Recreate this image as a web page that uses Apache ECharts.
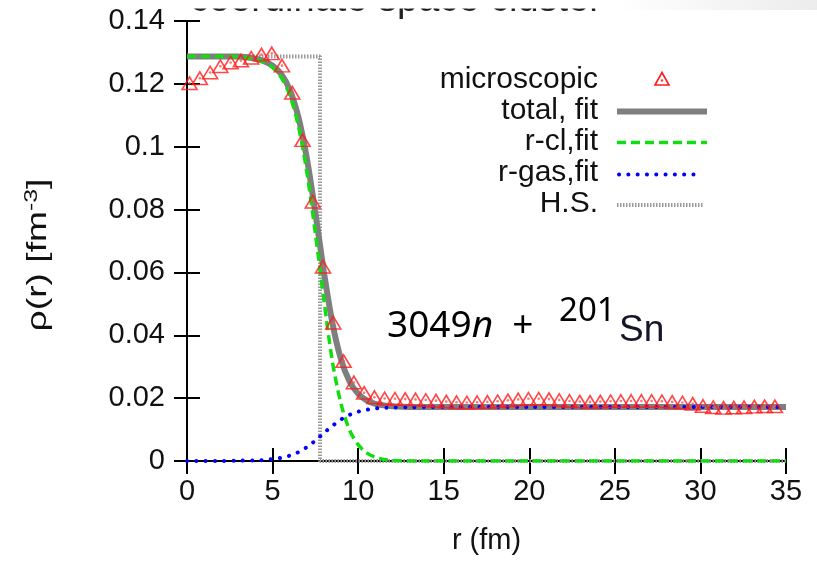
<!DOCTYPE html>
<html>
<head>
<meta charset="utf-8">
<script src="https://cdn.jsdelivr.net/npm/echarts@6/dist/echarts.min.js"></script>
<style>html,body{margin:0;padding:0;background:#fff}#c{width:817px;height:563px}</style>
</head>
<body>
<div id="c"></div>
<script>
// ---------- data ----------
const xTicks = [0, 5, 10, 15, 20, 25, 30, 35];
const yTickLabels = ['0', '0.02', '0.04', '0.06', '0.08', '0.1', '0.12', '0.14'];
const legendNames = ['microscopic', 'total, fit', 'r-cl,fit', 'r-gas,fit', 'H.S.'];

const rMicro = [0.15,0.75,1.35,1.95,2.55,3.15,3.75,4.35,4.95,5.55,6.15,6.75,7.35,7.95,8.55,9.15,9.75,10.35,10.95,11.55,
  12.15,12.75,13.35,13.95,14.55,15.15,15.75,16.35,16.95,17.55,18.15,18.75,19.35,19.95,20.55,21.15,21.75,22.35,22.95,23.55,
  24.15,24.75,25.35,25.95,26.55,27.15,27.75,28.35,28.95,29.55,30.15,30.75,31.35,31.95,32.55,33.15,33.75,34.35];
const rhoMicro = [0.1202,0.1218,0.1236,0.1256,0.1268,0.1274,0.1283,0.1293,0.1297,0.1258,0.1172,0.1021,0.0825,0.0618,0.0440,0.0318,0.0250,0.0217,0.0203,0.0199,
  0.0198,0.0197,0.0196,0.0194,0.0192,0.0189,0.0187,0.0186,0.0187,0.0188,0.0190,0.0193,0.0196,0.0198,0.0198,0.0197,0.0194,0.0191,0.0189,0.0188,
  0.0189,0.0190,0.0191,0.0191,0.0191,0.0191,0.0190,0.0188,0.0186,0.0182,0.0175,0.0171,0.0169,0.0170,0.0171,0.0173,0.0174,0.0174];

const rFit = [0,1,2,3,4,4.5,5,5.5,6,6.5,7,7.5,8,8.5,9,9.5,10,10.5,11,11.5,12,13,14,15,20,25,30,35];
const rhoTotal = [0.1287,0.1287,0.1287,0.1287,0.1280,0.1272,0.1258,0.1231,0.1182,0.1096,0.0964,0.0790,0.0601,0.0438,0.0323,0.0253,0.0214,0.0193,0.0182,0.0177,0.0174,0.0172,0.0172,0.0172,0.0172,0.0172,0.0172,0.0172];
const rhoCl = [0.1287,0.1287,0.1287,0.1286,0.1278,0.1269,0.1252,0.1221,0.1165,0.1068,0.0920,0.0725,0.0512,0.0315,0.0182,0.0098,0.0052,0.0026,0.0012,0.0005,0.0002,0,0,0,0,0,0,0];
const rhoGas = [0,0,0,0.0001,0.0002,0.0003,0.0006,0.0010,0.0017,0.0028,0.0044,0.0065,0.0089,0.0112,0.0132,0.0147,0.0157,0.0163,0.0167,0.0169,0.0170,0.0171,0.0172,0.0172,0.0172,0.0172,0.0172,0.0172];

const rHS = [0, 7.77, 7.77, 35];
const rhoHS = [0.1287, 0.1287, 0, 0];

// ---------- chart ----------
const FONT = '"Liberation Sans", Arial, sans-serif';
const zip = (a, b) => a.map((v, i) => [v, b[i]]);
const chart = echarts.init(document.getElementById('c'), null, { renderer: 'canvas' });

const axisLine = { show: true, lineStyle: { color: '#000', width: 2 } };
const axisTick = { show: true, inside: true, length: 13, lineStyle: { color: '#000', width: 2 } };

const legendY = [80, 111, 142, 173, 204];
const legendGraphics = [];
legendNames.forEach((n, i) => {
  legendGraphics.push({ type: 'text', x: 598, y: legendY[i], z: 100,
    style: { text: n, fontSize: 30, fontFamily: FONT, fill: '#111', align: 'right', verticalAlign: 'middle' } });
});
legendGraphics.push({ type: 'polygon', z: 100, shape: { points: [[662, 72.5], [669, 85], [655, 85]] },
  style: { fill: 'none', stroke: '#ff1a1a', lineWidth: 1.6 } });
legendGraphics.push({ type: 'circle', z: 100, shape: { cx: 662, cy: 80.5, r: 1.3 }, style: { fill: '#ff4040' } });
legendGraphics.push({ type: 'line', z: 100, shape: { x1: 617, y1: 111.5, x2: 707, y2: 111.5 }, style: { stroke: '#7f7f7f', lineWidth: 6 } });
legendGraphics.push({ type: 'line', z: 100, shape: { x1: 617, y1: 142.5, x2: 707, y2: 142.5 }, style: { stroke: '#11dd11', lineWidth: 3.5, lineDash: [9, 5] } });
legendGraphics.push({ type: 'line', z: 100, shape: { x1: 619, y1: 174.5, x2: 701, y2: 174.5 }, style: { stroke: '#0000ff', lineWidth: 4, lineDash: [0.1, 9.2], lineCap: 'round' } });
legendGraphics.push({ type: 'line', z: 100, shape: { x1: 617, y1: 205, x2: 704, y2: 205 }, style: { stroke: '#9a9a9a', lineWidth: 4, lineDash: [1.5, 1.5] } });

const option = {
  animation: false,
  backgroundColor: '#fff',
  grid: { left: 187, right: 31, top: 21, bottom: 102, containLabel: false },
  xAxis: [
    { type: 'value', min: 0, max: 35, interval: 5, position: 'bottom',
      axisLine, axisTick, splitLine: { show: false },
      axisLabel: { margin: 16, fontSize: 29, fontFamily: FONT, color: '#111' },
      name: 'r (fm)', nameLocation: 'middle', nameGap: 65,
      nameTextStyle: { fontSize: 29, fontFamily: FONT, color: '#111' } },
    { type: 'value', min: 0, max: 35, interval: 5, position: 'top',
      axisLine, axisTick, splitLine: { show: false }, axisLabel: { show: false } }
  ],
  yAxis: [
    { type: 'value', min: 0, max: 0.14, interval: 0.02, position: 'left',
      axisLine, axisTick, splitLine: { show: false },
      axisLabel: { margin: 22, fontSize: 29, fontFamily: FONT, color: '#111',
        formatter: v => yTickLabels[Math.round(v / 0.02)] } },
    { type: 'value', min: 0, max: 0.14, interval: 0.02, position: 'right',
      axisLine, axisTick, splitLine: { show: false }, axisLabel: { show: false } }
  ],
  series: [
    { name: legendNames[4], type: 'line', data: zip(rHS, rhoHS), symbol: 'none', z: 2,
      lineStyle: { color: '#9a9a9a', width: 4, type: [1.5, 1.5] } },
    { name: legendNames[1], type: 'line', data: zip(rFit, rhoTotal), symbol: 'none', smooth: 0.3, z: 3,
      lineStyle: { color: '#7f7f7f', width: 6 } },
    { name: legendNames[2], type: 'line', data: zip(rFit, rhoCl), symbol: 'none', smooth: 0.3, z: 4,
      lineStyle: { color: '#11dd11', width: 3.5, type: [9, 5] } },
    { name: legendNames[3], type: 'line', data: zip(rFit, rhoGas), symbol: 'none', smooth: 0.3, z: 5,
      lineStyle: { color: '#0000ff', width: 4, type: [0.1, 9.2], cap: 'round' } },
    { name: legendNames[0], type: 'scatter', data: zip(rMicro, rhoMicro), symbol: 'triangle', symbolSize: [15, 12.5], z: 6,
      itemStyle: { color: 'rgba(255,255,255,0)', borderColor: '#ff1a1a', borderWidth: 1.6 } },
    { name: legendNames[0] + ' ', type: 'scatter', data: zip(rMicro, rhoMicro), symbol: 'circle', symbolSize: 2.6, z: 7,
      itemStyle: { color: '#ff5050' } }
  ],
  graphic: [
    // clipped title remnant at top
    { type: 'text', x: 190, y: 20, z: 0, style: { text: 'coordinate space cluster', fontSize: 38, fontFamily: FONT, fill: '#222', align: 'left', verticalAlign: 'bottom' } },
    { type: 'rect', z: 50, shape: { x: 180, y: 0, width: 440, height: 8.5 }, style: { fill: '#ffffff' } },
    { type: 'rect', z: 51, shape: { x: 615, y: 0, width: 202, height: 10 },
      style: { fill: new echarts.graphic.LinearGradient(0, 0, 1, 0, [{ offset: 0, color: '#ffffff' }, { offset: 1, color: '#ececec' }]) } },
    // y axis title
    { type: 'text', x: 39, y: 255, rotation: Math.PI / 2, scaleX: 1.38, z: 100,
      style: { text: '{n|ρ(r) [fm}{s|-3}{n|]}', align: 'center', verticalAlign: 'middle', fill: '#111',
        rich: { n: { fontSize: 27, fontFamily: FONT, lineHeight: 31, fill: '#111' },
                s: { fontSize: 18, fontFamily: FONT, verticalAlign: 'top', lineHeight: 18, fill: '#111' } } } },
    // annotation
    { type: 'text', x: 387, y: 326, z: 100,
      style: { text: '{a|3049}{i|n}{a|  +}', align: 'left', verticalAlign: 'middle',
        rich: { a: { fontSize: 37, fontFamily: '"Noto Sans", sans-serif', fill: '#000' },
                i: { fontSize: 37, fontFamily: '"Noto Sans", sans-serif', fontStyle: 'italic', fill: '#000' } } } },
    { type: 'text', x: 559, y: 312, z: 100,
      style: { text: '201', fontSize: 33, fontFamily: '"Noto Sans", sans-serif', fill: '#000', align: 'left', verticalAlign: 'middle' } },
    { type: 'text', x: 619, y: 331, z: 100,
      style: { text: 'Sn', fontSize: 37, fontFamily: FONT, fill: '#14142a', align: 'left', verticalAlign: 'middle' } }
  ].concat(legendGraphics)
};
chart.setOption(option);
</script>
</body>
</html>
